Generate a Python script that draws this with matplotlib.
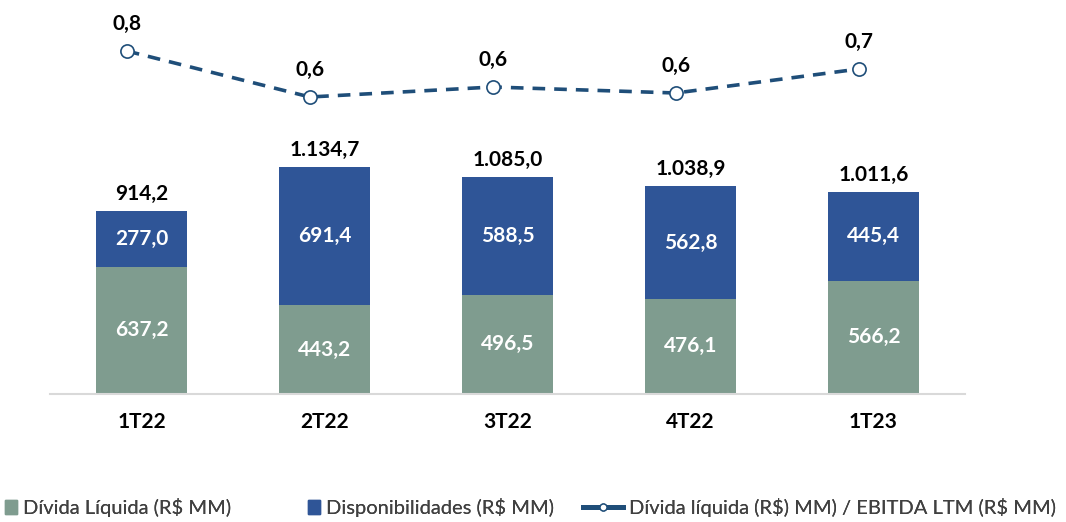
import matplotlib.pyplot as plt
from matplotlib.lines import Line2D
from matplotlib.patches import Patch
import numpy as np

plt.rcParams['font.family'] = ['Lato', 'DejaVu Sans']
plt.rcParams['text.parse_math'] = False

# data
categorias = ["1T22", "2T22", "3T22", "4T22", "1T23"]
divida_liquida = [637.2, 443.2, 496.5, 476.1, 566.2]
disponibilidades = [277.0, 691.4, 588.5, 562.8, 445.4]
totais = [914.2, 1134.7, 1085.0, 1038.9, 1011.6]
alavancagem = [0.79, 0.56, 0.61, 0.58, 0.70]

verde = "#7F9C8F"
azul = "#2F5597"
linha = "#1F4E79"


def br(v):
    return f"{v:,.1f}".replace(",", "X").replace(".", ",").replace("X", ".")


fig = plt.figure(figsize=(10.66, 5.22), dpi=100)
ax = fig.add_axes([50/1066, 1-394/522, 915/1066, 394/522])

x = np.arange(len(categorias))

ax.bar(x, divida_liquida, width=0.5, color=verde)
ax.bar(x, disponibilidades, width=0.5, bottom=divida_liquida, color=azul)

for i in range(len(x)):
    ax.text(x[i], divida_liquida[i]/2, br(divida_liquida[i]),
            ha="center", va="center", color="white", fontsize=15, fontweight="bold")
    ax.text(x[i], divida_liquida[i] + disponibilidades[i]/2, br(disponibilidades[i]),
            ha="center", va="center", color="white", fontsize=15, fontweight="bold")
    ax.annotate(br(totais[i]), (x[i], totais[i]), xytext=(0, 5), textcoords="offset points",
                ha="center", va="bottom", fontsize=15, fontweight="bold")

ax.set_xlim(-0.5, 4.5)
ax.set_ylim(0, 394/0.2)
ax.set_xticks(x)
ax.set_xticklabels(categorias, fontsize=15, fontweight="bold")
ax.tick_params(axis="x", length=0, pad=13)
ax.set_yticks([])
for s in ["top", "right", "left"]:
    ax.spines[s].set_visible(False)
ax.spines["bottom"].set_color("#D9D9D9")
ax.spines["bottom"].set_linewidth(1.5)

# linha de alavancagem
ax2 = ax.twinx()
ax2.plot(x - 0.08, alavancagem, color=linha, linestyle=(0, (3.5, 2.5)), linewidth=2.6,
         marker="o", markersize=9.5, markerfacecolor="white", markeredgecolor=linha,
         markeredgewidth=1.2)
for i in range(len(x)):
    ax2.annotate(br(alavancagem[i]), (x[i] - 0.08, alavancagem[i]),
                 xytext=(0, 12), textcoords="offset points", ha="center", va="bottom",
                 fontsize=15, fontweight="bold")
ax2.set_ylim(-0.925, 1.045)
ax2.axis("off")

# legenda em tres partes
handles = [
    Patch(color=verde),
    Patch(color=azul),
    Line2D([0], [0], color=linha, linewidth=3.5, marker="o", markersize=5,
           markerfacecolor="white", markeredgecolor=linha),
]
labels = ["Dívida Líquida (R$ MM)", "Disponibilidades (R$ MM)",
          "Dívida líquida (R$) MM) / EBITDA LTM (R$ MM)"]
posicoes = [-0.012, 0.272, 0.530]
comprimentos = [0.6, 0.6, 2.0]
for h, l, p, c in zip(handles, labels, posicoes, comprimentos):
    leg = fig.legend([h], [l], loc="lower left", bbox_to_anchor=(p, -0.025),
                     frameon=False, fontsize=14.5, handlelength=c, handletextpad=0.3,
                     labelcolor="#404040")
    fig.add_artist(leg)

fig.savefig("out.png", dpi=100)
